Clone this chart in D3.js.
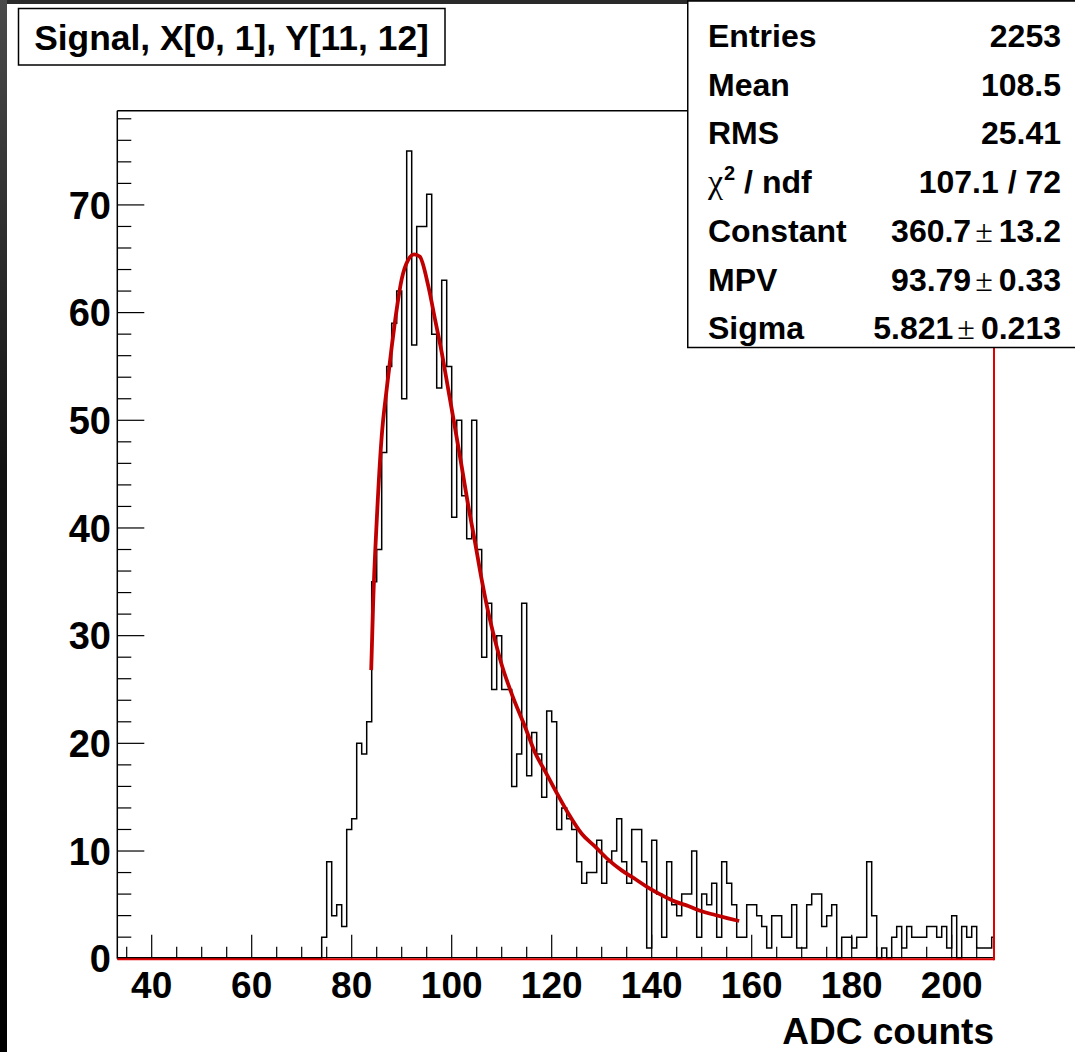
<!DOCTYPE html>
<html><head><meta charset="utf-8">
<script src="https://cdn.jsdelivr.net/npm/d3@7"></script>
<style>
body{margin:0;background:#fff;}
svg{display:block;}
text{font-family:"Liberation Sans",Arial,Helvetica,sans-serif;font-weight:bold;fill:#000;}
</style>
</head><body>
<svg id="c" width="1075" height="1052"></svg>
<script>
// ---------------- data ----------------
const title = "Signal, X[0, 1], Y[11, 12]";
const xAxisTitle = "ADC counts";
const firstBin = 74;           // lower edge of first non-empty bin (bin width 1)
const counts = [
  2, 9, 4, 5, 3, 12, 13, 20, 19, 22,          // 74-83
  35, 38, 47, 55, 59, 62, 52, 75, 57, 68,     // 84-93
  68, 71, 58, 53, 63, 55, 41, 50, 43, 39,     // 94-103
  50, 38, 28, 33, 25, 30, 25, 25, 16, 19,     // 104-113
  33, 17, 21, 19, 15, 23, 22, 12, 14, 13,     // 114-123
  12, 9, 7, 8, 8, 11, 7, 9, 10, 13,           // 124-133
  9, 7, 12, 12, 9, 1, 11, 6, 2, 9,            // 134-143
  5, 4, 6, 6, 10, 2, 6, 5, 7, 2,              // 144-153
  9, 7, 5, 2, 2, 5, 5, 4, 3, 1,               // 154-163
  4, 4, 2, 2, 5, 1, 1, 5, 6, 6,               // 164-173
  3, 4, 5, 0, 2, 2, 1, 2, 2, 9,               // 174-183
  4, 0, 1, 0, 2, 3, 1, 3, 2, 2,               // 184-193
  2, 3, 3, 2, 3, 1, 4, 0, 3, 2,               // 194-203
  3, 1, 1, 1, 2                               // 204-208
];
const xDomain = [33.12, 208.46];
const yDomain = [0, 78.75];
const xMajorTicks = [40, 60, 80, 100, 120, 140, 160, 180, 200];
const xMinorStep = 5;
const yMajorTicks = [0, 10, 20, 30, 40, 50, 60, 70];
const yMinorStep = 2;
// fitted Landau curve
const fitX = [83.9, 84.3, 85.0, 86.0, 87.0, 88.0, 89.0, 90.0, 91.3, 92.5, 93.6, 95.3, 96.7, 98.0, 99.3, 100.7, 102.0, 103.3, 104.7, 106.0, 107.3, 108.7, 110.0, 112.0, 114.7, 116.7, 118.7, 121.0, 123.3, 126.0, 128.7, 131.3, 134.0, 136.7, 139.3, 142.0, 144.7, 147.3, 150.0, 152.7, 155.3, 157.5];
const fitY = [26.8, 33.2, 40.6, 48.5, 52.9, 56.8, 60.3, 63.1, 64.9, 65.4, 65.2, 62.5, 59.3, 56.3, 52.9, 49.2, 45.7, 42.1, 38.6, 35.2, 32.2, 29.5, 27.3, 24.6, 21.5, 19.1, 17.4, 15.4, 13.5, 11.6, 10.4, 9.2, 8.2, 7.4, 6.6, 5.9, 5.3, 4.9, 4.4, 4.06, 3.75, 3.5];
const statLabels = ["Entries", "Mean", "RMS", "χ2 / ndf", "Constant", "MPV", "Sigma"];
const statValues = ["2253", "108.5", "25.41", "107.1 / 72", "360.7|13.2", "93.79|0.33", "5.821|0.213"];

// ---------------- layout ----------------
const L = 117.3, R = 994, T = 110.7, B = 958.7;
const svg = d3.select("#c");
const defs = svg.append("defs");

// dark border strips (screenshot edges)
const g1 = defs.append("linearGradient").attr("id","edge").attr("x1",0).attr("y1",0).attr("x2",0).attr("y2",1);
g1.append("stop").attr("offset","0%").attr("stop-color","#4a4a4a");
g1.append("stop").attr("offset","45%").attr("stop-color","#111");
g1.append("stop").attr("offset","100%").attr("stop-color","#000");
svg.append("rect").attr("x",0).attr("y",0).attr("width",1075).attr("height",1052).attr("fill","#fff");
svg.append("rect").attr("x",0).attr("y",0).attr("width",1075).attr("height",4).attr("fill","#2a2a2a");
svg.append("rect").attr("x",0).attr("y",0).attr("width",7).attr("height",1052).attr("fill","url(#edge)");

defs.append("clipPath").attr("id","plot").append("rect")
  .attr("x",L).attr("y",T-2).attr("width",R-L).attr("height",B-T+4);

const x = d3.scaleLinear().domain(xDomain).range([L, R]);
const y = d3.scaleLinear().domain(yDomain).range([B, T]);

// frame (left & top black)
svg.append("line").attr("x1",L).attr("x2",L).attr("y1",T).attr("y2",B).attr("stroke","#000").attr("stroke-width",1.5);
svg.append("line").attr("x1",L).attr("x2",R).attr("y1",T).attr("y2",T).attr("stroke","#000").attr("stroke-width",1.5);

// y ticks (inside)
const yMinor = d3.range(yDomain[0], yDomain[1], yMinorStep);
svg.append("g").selectAll("line").data(yMinor).join("line")
  .attr("x1",L).attr("x2",d => L + (yMajorTicks.includes(d) ? 27 : 14))
  .attr("y1",d => y(d)).attr("y2",d => y(d))
  .attr("stroke","#000").attr("stroke-width",1.2);
// x ticks (inside)
const xMinor = d3.range(35, xDomain[1], xMinorStep);
svg.append("g").selectAll("line").data(xMinor).join("line")
  .attr("x1",d => x(d)).attr("x2",d => x(d))
  .attr("y1",B).attr("y2",d => B - (xMajorTicks.includes(d) ? 24 : 12))
  .attr("stroke","#000").attr("stroke-width",1.2);

// histogram
const pts = [[xDomain[0], 0]];
counts.forEach((c, i) => pts.push([firstBin + i, c]));
pts.push([firstBin + counts.length, 0]);
const step = d3.line().x(d => x(d[0])).y(d => y(d[1])).curve(d3.curveStepAfter);
svg.append("path").attr("clip-path","url(#plot)").attr("d", step(pts))
  .attr("fill","none").attr("stroke","#000").attr("stroke-width",1.5);

// bottom axis line and red right/bottom lines
svg.append("line").attr("x1",L).attr("x2",R).attr("y1",B-1).attr("y2",B-1).attr("stroke","#000").attr("stroke-width",1.2);
svg.append("line").attr("x1",L).attr("x2",R).attr("y1",B+0.5).attr("y2",B+0.5).attr("stroke","#e00000").attr("stroke-width",2);
svg.append("line").attr("x1",R).attr("x2",R).attr("y1",T).attr("y2",B+1.5).attr("stroke","#e00000").attr("stroke-width",2);

// fit curve
const fitPts = fitX.map((v, i) => [v, fitY[i]]);
const fitLine = d3.line().x(d => x(d[0])).y(d => y(d[1])).curve(d3.curveMonotoneX);
svg.append("path").attr("d", fitLine(fitPts)).attr("fill","none")
  .attr("stroke","#c00000").attr("stroke-width",3.8).attr("stroke-linecap","butt");

// tick labels
svg.append("g").selectAll("text").data(yMajorTicks).join("text")
  .attr("x", 111).attr("y", d => y(d)).attr("dy","0.36em")
  .attr("text-anchor","end").attr("font-size",38).text(d => d);
svg.append("g").selectAll("text").data(xMajorTicks).join("text")
  .attr("x", d => x(d)).attr("y", 998)
  .attr("text-anchor","middle").attr("font-size",37).text(d => d);
svg.append("text").attr("x", R).attr("y", 1044).attr("text-anchor","end")
  .attr("font-size",37).text(xAxisTitle);

// title box
svg.append("rect").attr("x",18.5).attr("y",8.5).attr("width",426.5).attr("height",56.5)
  .attr("fill","#fff").attr("stroke","#000").attr("stroke-width",1.5);
svg.append("text").attr("x",231.5).attr("y",50).attr("text-anchor","middle")
  .attr("font-size",35.4).text(title);

// stats box
svg.append("rect").attr("x",687.75).attr("y",1).attr("width",400).attr("height",346.5)
  .attr("fill","#fff").attr("stroke","#000").attr("stroke-width",1.5);
const rowY = [47, 96, 144, 193, 242, 291, 339];
const FS = 32;
const sg = svg.append("g");
statLabels.forEach((lab, i) => {
  const t = sg.append("text").attr("x",708).attr("y",rowY[i]).attr("font-size",FS);
  if (lab.startsWith("χ")) {
    t.append("tspan").attr("font-family","'Liberation Serif',serif").attr("font-weight","normal").attr("font-size",34).text("χ");
    t.append("tspan").attr("font-size",20).attr("dy",-13).attr("dx",1).text("2");
    t.append("tspan").attr("dy",13).text(" / ndf");
  } else t.text(lab);
  const v = sg.append("text").attr("x",1061).attr("y",rowY[i]).attr("font-size",FS).attr("text-anchor","end");
  const val = statValues[i];
  if (val.includes("|")) {
    const [a, b] = val.split("|");
    v.append("tspan").text(a);
    v.append("tspan").attr("font-family","'Liberation Serif',serif").attr("font-weight","normal").attr("dx",4).text("±");
    v.append("tspan").attr("dx",6).text(b);
  } else v.text(val);
});
</script>
</body></html>
